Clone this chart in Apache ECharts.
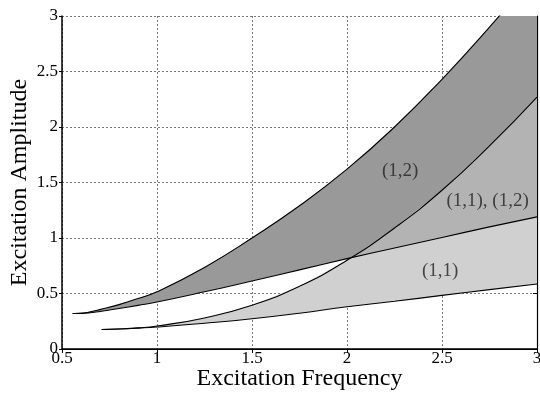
<!DOCTYPE html>
<html>
<head>
<meta charset="utf-8">
<script src="https://cdn.jsdelivr.net/npm/echarts@6/dist/echarts.min.js"></script>
<style>
  html, body { margin: 0; padding: 0; background: #fff; }
  #chart { width: 540px; height: 394px; }
</style>
</head>
<body>
<div id="chart"></div>
<script>
// instability boundaries
const darkX = [0.556, 0.6, 0.65, 0.7, 0.8, 0.9, 1.0, 1.25, 1.5, 1.75, 2.0, 2.25, 2.5, 2.75, 3.0];
const darkUpper = [0.32, 0.322, 0.335, 0.355, 0.40, 0.455, 0.515, 0.735, 1.0, 1.29, 1.62, 2.0, 2.43, 2.90, 3.40];
const darkLower = [0.32, 0.321, 0.327, 0.338, 0.365, 0.393, 0.423, 0.515, 0.613, 0.713, 0.814, 0.91, 1.005, 1.10, 1.19];

const lightX = [0.709, 0.8, 0.9, 1.0, 1.25, 1.5, 1.75, 2.0, 2.25, 2.5, 2.75, 3.0];
const lightUpper = [0.175, 0.18, 0.19, 0.207, 0.28, 0.395, 0.565, 0.80, 1.09, 1.43, 1.83, 2.27];
const lightLower = [0.175, 0.18, 0.188, 0.198, 0.232, 0.272, 0.322, 0.38, 0.43, 0.483, 0.535, 0.585];

const regionLabels = ['(1,2)', '(1,1), (1,2)', '(1,1)'];
const labelX = [2.28, 2.74, 2.49];
const labelY = [1.60, 1.33, 0.70];

const xTicks = ['0.5', '1', '1.5', '2', '2.5', '3'];

const FONT = '"Liberation Serif", "DejaVu Serif", serif';

const pairs = (xs, ys) => xs.map((x, i) => [x, ys[i]]);
const overlapFrom = 2.0;
const overlapUpper = pairs(lightX, lightUpper).filter(p => p[0] >= overlapFrom);
const overlapLower = pairs(darkX, darkLower).filter(p => p[0] >= overlapFrom);

const band = (upper, lower, fill) => ({
    type: 'custom',
    coordinateSystem: 'cartesian2d',
    clip: true,
    silent: true,
    data: [[0, 0]],
    renderItem: (params, api) => {
        const pts = upper.map(p => api.coord(p))
            .concat(lower.slice().reverse().map(p => api.coord(p)));
        return {
            type: 'polygon',
            shape: { points: pts, smooth: 0 },
            style: { fill: fill, stroke: null }
        };
    },
    z: 1
});

const edge = (xs, ys) => ({
    type: 'line',
    data: pairs(xs, ys),
    showSymbol: false,
    smooth: 0.5,
    clip: true,
    silent: true,
    lineStyle: { color: '#000', width: 1.1 },
    z: 3
});

const chart = echarts.init(document.getElementById('chart'));
chart.setOption({
    animation: false,
    backgroundColor: '#fff',
    grid: { left: 62, right: 3, top: 16, bottom: 45, containLabel: false, outerBoundsMode: 'none' },
    xAxis: [{
        type: 'value', min: 0.5, max: 3, interval: 0.5,
        name: 'Excitation Frequency', nameLocation: 'middle', nameGap: 18, nameMoveOverlap: false,
        nameTextStyle: { fontFamily: FONT, fontSize: 24, color: '#000' },
        axisLine: { onZero: false, lineStyle: { color: '#000', width: 1.5 } },
        axisTick: { show: true, length: 3, lineStyle: { color: '#000' } },
        axisLabel: {
            fontFamily: FONT, fontSize: 17, color: '#000', margin: 1,
            formatter: v => xTicks[Math.round((v - 0.5) / 0.5)]
        },
        splitLine: { show: true, lineStyle: { color: '#777', type: [2, 2], width: 1 } }
    }, {
        type: 'value', min: 0.5, max: 3, interval: 0.5, position: 'top',
        axisLine: { lineStyle: { color: '#000', width: 1.2 } },
        axisTick: { inside: true, length: 4, lineStyle: { color: '#000' } },
        axisLabel: { show: false }, splitLine: { show: false }
    }],
    yAxis: [{
        type: 'value', min: 0, max: 3, interval: 0.5,
        name: 'Excitation Amplitude', nameLocation: 'middle', nameGap: 30, nameMoveOverlap: false,
        nameTextStyle: { fontFamily: FONT, fontSize: 24, color: '#000' },
        axisLine: { show: true, onZero: false, lineStyle: { color: '#000', width: 1.5 } },
        axisTick: { show: true, length: 3, lineStyle: { color: '#000' } },
        axisLabel: { fontFamily: FONT, fontSize: 17, color: '#000', margin: 4 },
        splitLine: { show: true, lineStyle: { color: '#777', type: [2, 2], width: 1 } }
    }, {
        type: 'value', min: 0, max: 3, interval: 0.5, position: 'right',
        axisLine: { show: true, lineStyle: { color: '#000', width: 1.2 } },
        axisTick: { show: true, inside: true, length: 4, lineStyle: { color: '#000' } },
        axisLabel: { show: false }, splitLine: { show: false }
    }],
    series: [
        band(pairs(darkX, darkUpper), pairs(darkX, darkLower), '#999999'),
        band(pairs(lightX, lightUpper), pairs(lightX, lightLower), '#d0d0d0'),
        band(overlapUpper, overlapLower, '#b3b3b3'),
        edge(darkX, darkUpper),
        edge(darkX, darkLower),
        edge(lightX, lightUpper),
        edge(lightX, lightLower),
        {
            type: 'scatter',
            data: labelX.map((x, i) => [x, labelY[i], regionLabels[i]]),
            symbolSize: 1,
            itemStyle: { color: 'rgba(0,0,0,0)' },
            silent: true,
            z: 4,
            label: {
                show: true, position: 'inside',
                formatter: p => p.data[2],
                fontFamily: FONT, fontSize: 19, color: '#222'
            }
        }
    ]
});
</script>
</body>
</html>
